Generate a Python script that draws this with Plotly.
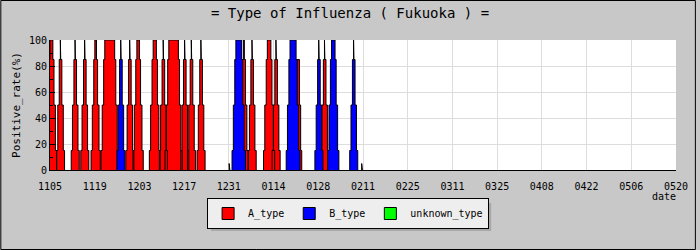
import plotly.graph_objects as go

# ---- data ----
tick_days = [0, 14, 28, 42, 56, 70, 84, 98, 112, 126, 140, 154, 168, 182, 196]
tick_labels = ['1105', '1119', '1203', '1217', '1231', '0114', '0128', '0211',
               '0225', '0311', '0325', '0408', '0422', '0506', '0520']

# each detection spike: day offset from 11/05, type, peak positive rate (%), top width (days)
spike_day  = [0.45, 3.3, 7.9, 10.9, 14.3, 18.7, 22.2, 25.0, 27.6, 32.8, 35.5, 38.7,
              42.2, 44.3, 47.3, 56.2, 59.1, 60.7, 63.3, 68.6, 70.8, 76.1, 77.6,
              84.2, 86.0, 88.7, 95.1, 97.7]
spike_type = ['A', 'A', 'A', 'A', 'A', 'A', 'B', 'A', 'A', 'A', 'A', 'A',
              'A', 'A', 'A', 'A', 'B', 'A', 'A', 'A', 'A', 'B', 'A',
              'B', 'A', 'B', 'B', 'A']
spike_peak = [100, 100, 100, 100, 100, 100, 100, 100, 100, 100, 100, 100,
              100, 100, 100, 5, 100, 100, 100, 100, 100, 100, 85,
              100, 100, 100, 100, 5]
spike_top  = [0.9, 0.12, 0.12, 0.12, 0.5, 3.1, 0.12, 0.12, 0.8, 1.0, 0.12, 3.0,
              0.12, 0.12, 0.12, 0.1, 1.8, 0.3, 0.12, 1.1, 0.12, 1.9, 0.4,
              0.12, 0.12, 1.1, 0.12, 0.1]

type_keys = ['A', 'B', 'U']
type_names = {'A': 'A_type', 'B': 'B_type', 'U': 'unknown_type'}
type_colors = {'A': '#ff0000', 'B': '#0000ff', 'U': '#00ff00'}

# stepped drawing levels (style): level height cap and extra width in days
level_caps = [15, 50, 85]
level_extra = [2.4, 1.6, 0.7]


def spike_outline(d, pk, tw):
    hs = [min(c, pk) for c in level_caps] + [pk]
    ws = [tw + e * pk / 100.0 for e in level_extra] + [tw]
    xs, ys = [d - ws[0] / 2], [0]
    for i in range(len(hs)):
        xs += [d - ws[i] / 2, d - ws[i] / 2]
        ys += [hs[i - 1] if i else 0, hs[i]]
    for i in reversed(range(len(hs))):
        xs += [d + ws[i] / 2, d + ws[i] / 2]
        ys += [hs[i], hs[i - 1] if i else 0]
    xs.append(None)
    ys.append(None)
    return xs, ys


fig = go.Figure()
for t in ['A', 'B']:
    X, Y = [], []
    for d, ty, pk, tw in zip(spike_day, spike_type, spike_peak, spike_top):
        if ty == t:
            xs, ys = spike_outline(d, pk, tw)
            X += xs
            Y += ys
    fig.add_trace(go.Scatter(x=X, y=Y, mode='lines', fill='toself',
                             fillcolor=type_colors[t], line=dict(color='black', width=1),
                             showlegend=False, hoverinfo='skip'))

# legend keys (placed outside the visible range)
for t in type_keys:
    fig.add_trace(go.Bar(x=[-50], y=[1], name=type_names[t],
                         marker=dict(color=type_colors[t], line=dict(color='black', width=1))))

W, H = 700, 250
L, R, T, B = 50, 20, 40, 80
pw, ph = W - L - R, H - T - B

mono = "DejaVu Sans Mono"
fig.update_layout(
    width=W, height=H,
    margin=dict(l=L, r=R, t=T, b=B),
    paper_bgcolor='#c8c8c8', plot_bgcolor='white',
    font=dict(family=mono, size=10, color='black'),
    title=dict(text='= Type of Influenza ( Fukuoka ) =', x=0.5, xanchor='center',
               y=1 - 13 / H, yanchor='middle', font=dict(family=mono, size=14)),
    xaxis=dict(range=[0, 196], tickvals=tick_days, ticktext=tick_labels,
               showgrid=True, gridcolor='#dddddd', gridwidth=1,
               showline=True, linecolor='black', linewidth=1,
               ticks='', zeroline=False, tickfont=dict(size=10),
               ticklabelstandoff=7),
    yaxis=dict(range=[0, 100], tickvals=[0, 20, 40, 60, 80, 100],
               showgrid=True, gridcolor='#dddddd', gridwidth=1,
               showline=True, linecolor='black', linewidth=1,
               ticks='inside', ticklen=5, tickcolor='black',
               minor=dict(ticks='inside', ticklen=3, dtick=10, tickcolor='black'),
               zeroline=False, tickfont=dict(size=10),
               title=dict(text='Positive_rate(%)', font=dict(size=11), standoff=6)),
    legend=dict(orientation='h', x=(350 - L) / pw, xanchor='center',
                y=-(198 - (T + ph)) / ph, yanchor='top',
                bgcolor='#eeeeee', bordercolor='black', borderwidth=1,
                font=dict(family=mono, size=10), itemclick=False),
    annotations=[dict(text='date', x=(668 - L) / pw, y=-(196 - (T + ph)) / ph,
                      xref='paper', yref='paper', showarrow=False,
                      xanchor='center', yanchor='middle', font=dict(size=10))],
    shapes=[
        dict(type='rect', xref='paper', yref='paper', layer='below',
             x0=(212 - L) / pw, x1=(494 - L) / pw,
             y0=-(231 - (T + ph)) / ph, y1=-(203 - (T + ph)) / ph,
             fillcolor='#a8a8a8', line=dict(width=0)),
        dict(type='rect', xref='paper', yref='paper', layer='above',
             x0=-(L - 0.5) / pw, x1=(pw + R - 0.5) / pw,
             y0=-(B - 0.5) / ph, y1=(ph + T - 0.5) / ph,
             line=dict(color='black', width=1)),
    ],
)

fig.write_html("out.html")
